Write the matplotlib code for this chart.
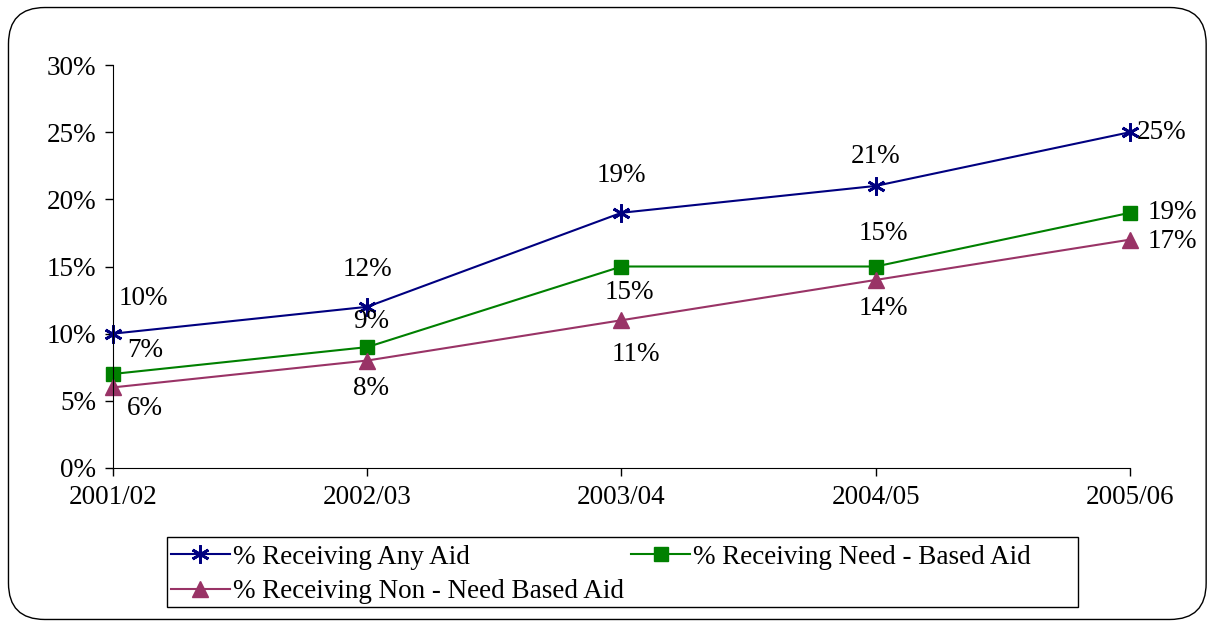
import matplotlib.pyplot as plt
from matplotlib.patches import FancyBboxPatch, Rectangle

plt.rcParams['font.family'] = ['Liberation Serif', 'DejaVu Serif']

years = ["2001/02", "2002/03", "2003/04", "2004/05", "2005/06"]
any_aid = [10, 12, 19, 21, 25]
need_aid = [7, 9, 15, 15, 19]
non_need_aid = [6, 8, 11, 14, 17]

# label offsets in pixels (dx, dy) for each point
any_off = [(30, 35), (0, 37), (0, 37), (0, 29), (32, 0)]
need_off = [(32, 23), (4, 26), (8, -26), (8, 33), (42, 0)]
non_off = [(32, -21), (4, -28), (14, -34), (8, -29), (42, -2)]

fig = plt.figure(figsize=(12.11, 6.27), dpi=100)
ax = fig.add_axes([0.0933, 0.2536, 0.8398, 0.6427])

x = list(range(len(years)))
l1, = ax.plot(x, any_aid, color="#000080", lw=1.5, marker=(6, 2, 0), ms=13,
              mew=2, label="% Receiving Any Aid", clip_on=False)
l2, = ax.plot(x, need_aid, color="#008000", lw=1.5, marker="s", ms=10.5,
              label="% Receiving Need - Based Aid", clip_on=False)
l3, = ax.plot(x, non_need_aid, color="#993366", lw=1.5, marker="^", ms=12,
              label="% Receiving Non - Need Based Aid", clip_on=False)

for vals, offs in [(any_aid, any_off), (need_aid, need_off), (non_need_aid, non_off)]:
    for xi, v, (dx, dy) in zip(x, vals, offs):
        ax.annotate(f"{v}%", (xi, v), xytext=(dx, dy), textcoords="offset pixels",
                    ha="center", va="center", fontsize=19.5)

ax.set_xlim(0, 4)
ax.set_ylim(0, 30)
ax.set_xticks(x)
ax.set_xticklabels(years)
ax.set_yticks(range(0, 31, 5))
ax.set_yticklabels([f"{v}%" for v in range(0, 31, 5)])
ax.tick_params(labelsize=19.5, length=6, width=1, direction="out", pad=6)
ax.spines["top"].set_visible(False)
ax.spines["right"].set_visible(False)

# legend box drawn separately
fig.patches.append(Rectangle((167 / 1211, 1 - 607 / 627), (1078 - 167) / 1211, 70 / 627,
                             transform=fig.transFigure, fill=False, edgecolor="black", lw=1))
leg = fig.legend(handles=[l1, l3, l2], loc="upper left", ncol=2,
                 bbox_to_anchor=(168 / 1211, 1 - 542 / 627),
                 fontsize=19.5, frameon=False, handlelength=2.2, handletextpad=0.1,
                 borderpad=0.0, labelspacing=0.35, columnspacing=0.25, borderaxespad=0.1)

frame = FancyBboxPatch((0.007, 0.012), 0.989, 0.976, boxstyle="round,pad=0,rounding_size=0.03",
                       transform=fig.transFigure, fill=False, edgecolor="black", lw=1,
                       mutation_aspect=1211 / 627)
fig.patches.append(frame)

fig.savefig("out.png", dpi=100)
